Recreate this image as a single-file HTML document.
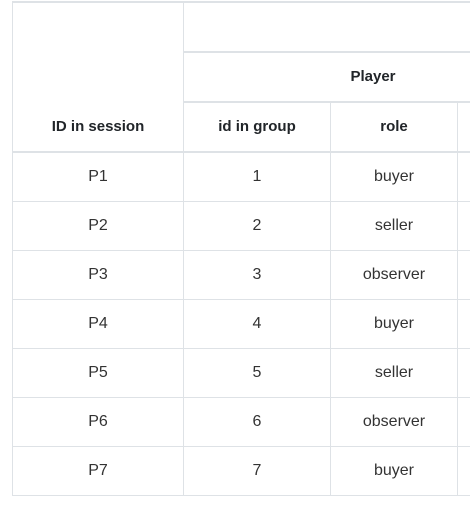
<!DOCTYPE html>
<html><head><style>
html,body{margin:0;padding:0;background:#fff;width:470px;height:507px;overflow:hidden;position:relative;font-family:"Liberation Sans",Roboto,sans-serif;color:#212529}
.h{position:absolute;height:2px;background:#dee2e6}
.h1{position:absolute;height:1px;background:#dee2e6}
.v{position:absolute;width:1px;background:#dee2e6}
.t{position:absolute;text-align:center;font-size:16px;line-height:20px;color:#333}
.b{font-weight:bold;font-size:15px;color:#212529}
</style></head><body>
<div class="h" style="left:12px;top:1px;width:458px"></div>
<div class="h" style="left:183px;top:51px;width:287px"></div>
<div class="h" style="left:183px;top:101px;width:287px"></div>
<div class="h" style="left:12px;top:151px;width:458px"></div>
<div class="h1" style="left:12px;top:201px;width:458px"></div>
<div class="h1" style="left:12px;top:250px;width:458px"></div>
<div class="h1" style="left:12px;top:299px;width:458px"></div>
<div class="h1" style="left:12px;top:348px;width:458px"></div>
<div class="h1" style="left:12px;top:397px;width:458px"></div>
<div class="h1" style="left:12px;top:446px;width:458px"></div>
<div class="h1" style="left:12px;top:495px;width:458px"></div>
<div class="v" style="left:12px;top:1px;height:495px"></div>
<div class="v" style="left:183px;top:1px;height:495px"></div>
<div class="v" style="left:330px;top:102px;height:394px"></div>
<div class="v" style="left:457px;top:102px;height:394px"></div>

<div class="t b" style="left:283px;width:180px;top:67px">Player</div>
<div class="t b" style="left:13px;width:170px;top:117px">ID in session</div>
<div class="t b" style="left:184px;width:146px;top:117px">id in group</div>
<div class="t b" style="left:331px;width:126px;top:117px">role</div>

<div class="t" style="left:13px;width:170px;top:167px">P1</div>
<div class="t" style="left:184px;width:146px;top:167px">1</div>
<div class="t" style="left:331px;width:126px;top:167px">buyer</div>
<div class="t" style="left:13px;width:170px;top:216px">P2</div>
<div class="t" style="left:184px;width:146px;top:216px">2</div>
<div class="t" style="left:331px;width:126px;top:216px">seller</div>
<div class="t" style="left:13px;width:170px;top:265px">P3</div>
<div class="t" style="left:184px;width:146px;top:265px">3</div>
<div class="t" style="left:331px;width:126px;top:265px">observer</div>
<div class="t" style="left:13px;width:170px;top:314px">P4</div>
<div class="t" style="left:184px;width:146px;top:314px">4</div>
<div class="t" style="left:331px;width:126px;top:314px">buyer</div>
<div class="t" style="left:13px;width:170px;top:363px">P5</div>
<div class="t" style="left:184px;width:146px;top:363px">5</div>
<div class="t" style="left:331px;width:126px;top:363px">seller</div>
<div class="t" style="left:13px;width:170px;top:412px">P6</div>
<div class="t" style="left:184px;width:146px;top:412px">6</div>
<div class="t" style="left:331px;width:126px;top:412px">observer</div>
<div class="t" style="left:13px;width:170px;top:461px">P7</div>
<div class="t" style="left:184px;width:146px;top:461px">7</div>
<div class="t" style="left:331px;width:126px;top:461px">buyer</div>
</body></html>
